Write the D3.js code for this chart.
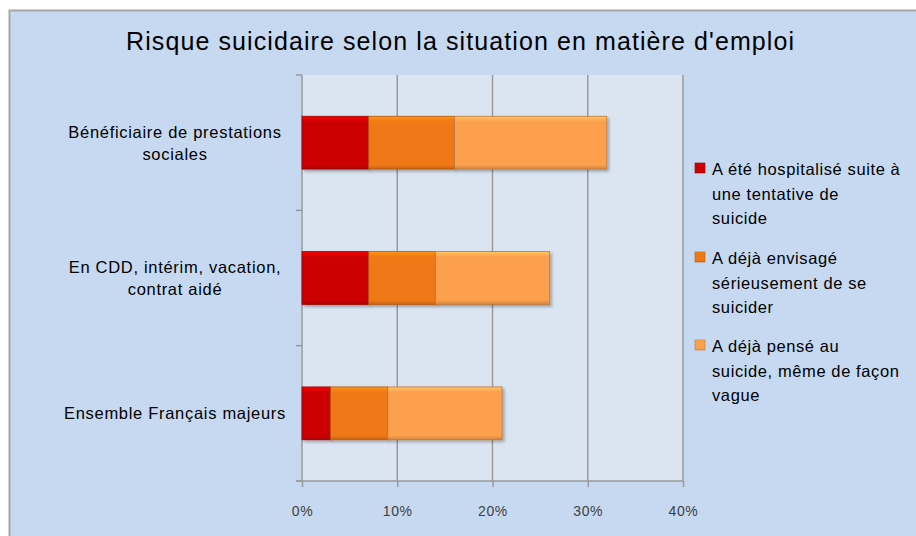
<!DOCTYPE html>
<html><head><meta charset="utf-8">
<script src="https://cdn.jsdelivr.net/npm/d3@7"></script>
<style>body{margin:0;background:#fff;}svg{display:block;font-family:"Liberation Sans",Arial,sans-serif;}</style>
</head><body>
<svg id="c" width="916" height="536"></svg>
<script>
const title = "Risque suicidaire selon la situation en matière d'emploi";
const categories = ["Bénéficiaire de prestations sociales", "En CDD, intérim, vacation, contrat aidé", "Ensemble Français majeurs"];
const categoryLines = [["Bénéficiaire de prestations", "sociales"], ["En CDD, intérim, vacation,", "contrat aidé"], ["Ensemble Français majeurs"]];
const seriesNames = ["A été hospitalisé suite à une tentative de suicide", "A déjà envisagé sérieusement de se suicider", "A déjà pensé au suicide, même de façon vague"];
const legendLines = [["A été hospitalisé suite à", "une tentative de", "suicide"], ["A déjà envisagé", "sérieusement de se", "suicider"], ["A déjà pensé au", "suicide, même de façon", "vague"]];
const hospitalise = [7, 7, 3];
const envisage = [9, 7, 6];
const pense = [16, 12, 12];
const xTicks = [0, 10, 20, 30, 40];
const colors = ["#cc0000", "#f07814", "#fca04e"];

const svg = d3.select("#c");
svg.append("rect").attr("x", 9.5).attr("y", 10.5).attr("width", 920).attr("height", 540)
  .attr("fill", "#c6d9f0").attr("stroke", "#a6a6a6").attr("stroke-width", 2);

svg.append("text").attr("x", 460).attr("y", 50).attr("text-anchor", "middle")
  .attr("font-size", 25).attr("fill", "#000")
  .attr("textLength", 668).attr("lengthAdjust", "spacing").text(title);

const x = d3.scaleLinear().domain([0, 40]).range([302, 683]);
const y = d3.scaleBand().domain(categories).range([75, 481]).paddingInner(0.61).paddingOuter(0.305);

svg.append("rect").attr("x", x(0)).attr("y", 75).attr("width", x(40) - x(0)).attr("height", 406).attr("fill", "#dbe5f1");

svg.append("g").selectAll("line").data(xTicks.slice(1)).join("line")
  .attr("x1", d => x(d)).attr("x2", d => x(d)).attr("y1", 75).attr("y2", 481)
  .attr("stroke", "#9a9a9a").attr("stroke-width", 1.5);

const xAxis = d3.axisBottom(x).tickValues(xTicks).tickFormat(d => d + "%").tickSize(6).tickPadding(19);
const gx = svg.append("g").attr("transform", "translate(0,481)").call(xAxis);
gx.select(".domain").attr("stroke", "#9a9a9a").attr("stroke-width", 1.5).attr("d", `M${x(0)-6},0H${x(40)}`);
gx.selectAll(".tick line").attr("stroke", "#9a9a9a").attr("stroke-width", 1.5);
gx.selectAll(".tick text").attr("font-size", 14).attr("fill", "#404040").attr("font-family", "Liberation Sans, Arial, sans-serif").attr("letter-spacing", 0.6);

const step = y.step();
const bounds = d3.range(categories.length + 1).map(i => 75 + i * step);
svg.append("line").attr("x1", x(0)).attr("x2", x(0)).attr("y1", 75).attr("y2", 481).attr("stroke", "#9a9a9a").attr("stroke-width", 1.5);
svg.append("g").selectAll("line").data(bounds).join("line")
  .attr("x1", x(0) - 6).attr("x2", x(0)).attr("y1", d => d).attr("y2", d => d)
  .attr("stroke", "#9a9a9a").attr("stroke-width", 1.5);

categories.forEach((c, i) => {
  const lines = categoryLines[i];
  const cy = y(c) + y.bandwidth() / 2;
  const lh = 22;
  const t = svg.append("text").attr("text-anchor", "middle").attr("font-size", 16.5).attr("fill", "#000").attr("letter-spacing", 0.7);
  lines.forEach((l, j) => {
    t.append("tspan").attr("x", 175).attr("y", cy + 6 + (j - (lines.length - 1) / 2) * lh).text(l);
  });
});

const defs = svg.append("defs");
colors.forEach((col, i) => {
  const g = defs.append("linearGradient").attr("id", "g" + i).attr("x1", 0).attr("y1", 0).attr("x2", 0).attr("y2", 1);
  const c = d3.color(col);
  g.append("stop").attr("offset", "0%").attr("stop-color", c.brighter(0.6));
  g.append("stop").attr("offset", "10%").attr("stop-color", col);
  g.append("stop").attr("offset", "92%").attr("stop-color", col);
  g.append("stop").attr("offset", "100%").attr("stop-color", c.darker(0.5));
});
const f = defs.append("filter").attr("id", "sh").attr("x", "-10%").attr("y", "-10%").attr("width", "130%").attr("height", "140%");
f.append("feDropShadow").attr("dx", 2).attr("dy", 2).attr("stdDeviation", 1.5).attr("flood-color", "#000").attr("flood-opacity", 0.3);

const rows = categories.map((c, i) => ({cat: c, v: [hospitalise[i], envisage[i], pense[i]]}));
const stack = d3.stack().keys([0, 1, 2]).value((d, k) => d.v[k]);
const layers = stack(rows);
const gb = svg.append("g");
layers.forEach((layer, li) => {
  gb.append("g").selectAll("rect").data(layer).join("rect")
    .attr("x", d => x(d[0])).attr("y", d => y(d.data.cat))
    .attr("width", d => x(d[1]) - x(d[0])).attr("height", y.bandwidth())
    .attr("fill", "url(#g" + li + ")").attr("stroke", d3.color(colors[li]).darker(0.8)).attr("stroke-width", 0.8)
    .attr("filter", "url(#sh)");
});

const legY = [174, 263, 351];
seriesNames.forEach((s, i) => {
  svg.append("rect").attr("x", 695).attr("y", legY[i] - 11).attr("width", 10).attr("height", 10)
    .attr("fill", "url(#g" + i + ")").attr("stroke", d3.color(colors[i]).darker(0.8)).attr("stroke-width", 0.6);
  const t = svg.append("text").attr("font-size", 16.5).attr("fill", "#000").attr("letter-spacing", 0.6);
  legendLines[i].forEach((l, j) => {
    t.append("tspan").attr("x", 712).attr("y", legY[i] + 1 + j * 24.5).text(l);
  });
});
</script>
</body></html>
